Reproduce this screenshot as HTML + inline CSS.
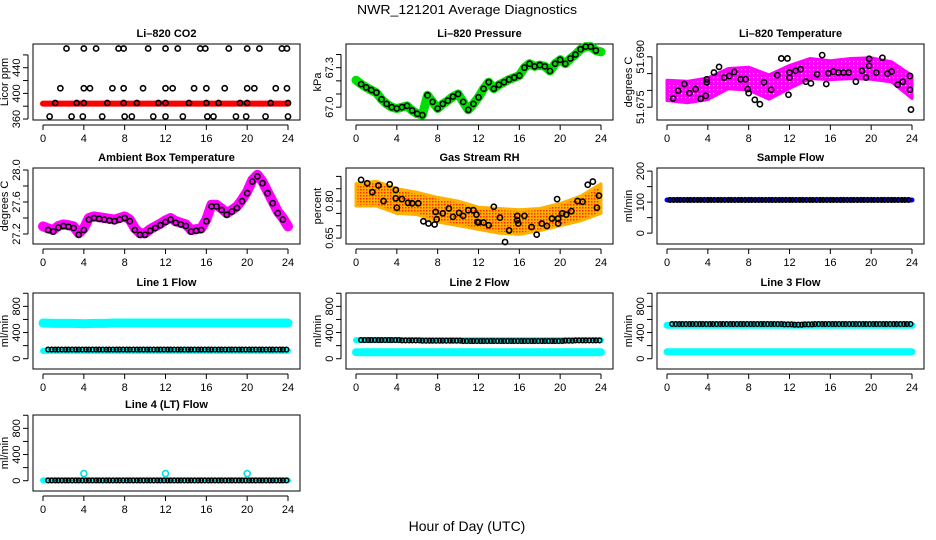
<!DOCTYPE html>
<html><head><meta charset="utf-8"><style>
html,body{margin:0;padding:0;background:#fff;}
svg{display:block;font-family:"Liberation Sans",sans-serif;}
.tl{font-size:11px;fill:#000;}
.tt{font-size:11px;font-weight:bold;fill:#000;}
</style></head><body>
<svg id="chart" width="936" height="540" viewBox="0 0 936 540">
<defs>
<pattern id="rhpat" width="3" height="3" patternUnits="userSpaceOnUse"><rect width="3" height="3" fill="#ffb000"/><rect width="1.5" height="1.5" fill="#ff2a00"/></pattern>
<pattern id="tpat" width="4" height="4" patternUnits="userSpaceOnUse"><rect width="4" height="4" fill="#ff00ff"/><rect x="1" y="1" width="1.2" height="1.2" fill="#ffb0ff"/></pattern>
</defs>
<text x="467" y="14" text-anchor="middle" font-size="13" textLength="220" lengthAdjust="spacingAndGlyphs">NWR_121201  Average Diagnostics</text>
<text x="467" y="531" text-anchor="middle" font-size="14">Hour of Day (UTC)</text>
</svg>
<script>
// ---- data ----
const xTicks = [0,4,8,12,16,20,24];
const halfHours = [0,0.5,1,1.5,2,2.5,3,3.5,4,4.5,5,5.5,6,6.5,7,7.5,8,8.5,9,9.5,10,10.5,11,11.5,12,12.5,13,13.5,14,14.5,15,15.5,16,16.5,17,17.5,18,18.5,19,19.5,20,20.5,21,21.5,22,22.5,23,23.5,24];
const twoHours = [0,2,4,6,8,10,12,14,16,18,20,22,24];
const hourly = [0,1,2,3,4,5,6,7,8,9,10,11,12,13,14,15,16,17,18,19,20,21,22,23,24];

const co2Band = [384,384,384,384,384,384,384,384,384,384,384,384,384];
const co2HighHours = [2.3,4.0,5.2,7.4,7.9,10.3,12.0,13.2,15.4,15.9,18.2,20.0,21.2,23.4,23.9];
const co2MidHours = [1.7,4.0,4.6,6.8,7.9,9.8,12.0,12.7,14.8,16.0,17.8,20.0,20.7,22.8,23.9];
const co2LowHours = [1.2,3.3,4.0,6.3,7.9,9.2,11.3,12.0,14.3,16.0,17.2,19.3,20.0,22.3,24.0];
const co2MinHours = [0.65,2.8,3.9,5.8,8.0,8.7,10.8,12.0,13.7,16.1,16.7,18.9,19.9,21.8,24.0];
const co2Levels = [470,408,385,364];

const pressure = [67.205,67.175,67.15,67.13,67.11,67.06,67.025,67.0,66.99,67.0,67.01,66.975,66.95,66.94,67.09,67.04,66.99,67.025,67.05,67.08,67.1,67.04,66.98,67.025,67.075,67.14,67.19,67.14,67.17,67.19,67.21,67.225,67.24,67.3,67.33,67.31,67.32,67.31,67.275,67.33,67.36,67.33,67.37,67.4,67.44,67.46,67.46,67.43,67.42];

const tempCenter = [51.680,51.6795,51.6805,51.6835,51.6835,51.681,51.684,51.6865,51.686,51.6865,51.6865,51.6855,51.681];
const tempSpread = [0.0030,0.0032,0.0032,0.0030,0.0034,0.0036,0.0034,0.0030,0.0028,0.0030,0.0032,0.0030,0.0034];
const tempBlackHours = [0.6,1.1,1.7,2.2,2.8,3.3,3.8,3.9,3.9,4.6,5.1,5.6,6.1,6.6,7.2,7.7,7.9,8.0,8.6,9.1,9.5,10.2,10.8,11.2,11.8,11.9,12.0,12.0,12.6,13.1,13.6,14.1,14.7,15.2,15.6,15.8,16.3,16.8,17.3,17.8,18.5,19.1,19.5,19.8,19.8,20.5,21.1,21.6,22.0,22.6,23.1,23.8,23.8,23.9];
const tempBlack = [51.6776,51.6799,51.6819,51.6792,51.6804,51.6775,51.6784,51.6824,51.6833,51.6853,51.6870,51.6838,51.6843,51.6855,51.6833,51.6833,51.6804,51.6792,51.6772,51.6759,51.6824,51.6802,51.6845,51.6895,51.6895,51.6787,51.6838,51.6853,51.6858,51.6863,51.6826,51.6821,51.6848,51.6905,51.6819,51.6851,51.6856,51.6853,51.6853,51.6853,51.6826,51.6858,51.6838,51.6873,51.6894,51.6853,51.6897,51.6850,51.6856,51.6817,51.6826,51.6802,51.6843,51.6743];

const ambient = [27.295,27.27,27.25,27.3,27.32,27.31,27.295,27.21,27.27,27.4,27.42,27.41,27.4,27.39,27.38,27.4,27.42,27.38,27.27,27.21,27.21,27.26,27.295,27.33,27.37,27.4,27.36,27.34,27.32,27.25,27.26,27.27,27.38,27.565,27.565,27.52,27.46,27.5,27.545,27.63,27.73,27.875,27.94,27.855,27.73,27.605,27.48,27.4,27.295];

const rhCenter = [0.825,0.83,0.80,0.79,0.765,0.75,0.73,0.72,0.715,0.725,0.745,0.77,0.81];
const rhSpread = [0.045,0.05,0.05,0.045,0.05,0.05,0.045,0.05,0.05,0.045,0.045,0.05,0.06];
const rhBlackHours = [0.5,1.1,1.6,2.2,2.7,3.3,3.9,3.9,4.0,4.5,5.1,5.5,6.1,6.6,7.1,7.7,7.8,7.9,8.5,9.1,9.5,10.1,10.5,11.0,11.5,11.8,11.9,12.0,12.5,13.0,13.5,14.1,14.6,15.0,15.8,15.8,15.9,16.5,17.2,17.7,18.2,18.7,19.2,19.7,19.8,19.8,20.2,20.6,21.1,21.7,22.2,22.7,23.2,23.6,23.8];
const rhBlack = [0.886,0.872,0.836,0.863,0.800,0.868,0.845,0.811,0.773,0.808,0.793,0.791,0.791,0.718,0.709,0.705,0.756,0.726,0.750,0.770,0.736,0.752,0.740,0.763,0.763,0.745,0.715,0.713,0.713,0.702,0.777,0.733,0.634,0.681,0.740,0.722,0.709,0.740,0.695,0.664,0.709,0.699,0.729,0.808,0.729,0.709,0.750,0.745,0.759,0.800,0.797,0.866,0.879,0.773,0.822];

const sampleBlue = [107,107,107,107,107,107,107,107,107,107,107,107,107,107,107,107,107,107,107,107,107,107,107,107,107];
const sampleBlack = [107,107,107,107,107,107,107,107,107,107,107,107,107,107,107,107,107,107,107,107,107,107,107,107,107];
const line1CyanHigh = [545,540,540,540,535,540,540,545,545,545,545,545,545,545,545,545,545,545,545,545,545,545,545,545,545];
const line1CyanLow = [120,120,120,120,120,120,120,120,120,120,120,120,120,120,120,120,120,120,120,120,120,120,120,120,120];
const line1Black = [140,140,140,140,140,140,140,140,140,140,140,140,140,140,140,140,140,140,140,140,140,140,140,140,140];
const line2Cyan = [100,100,100,100,100,100,100,100,100,100,100,100,100,100,100,100,100,100,100,100,100,100,100,100,100];
const line2CyanHigh = [285,285,285,285,285,285,285,285,285,285,285,285,285,285,285,285,285,285,285,285,285,285,285,285,285];
const line2Black = [285,285,285,285,280,280,275,275,275,275,270,270,270,270,270,270,270,270,270,270,275,280,280,280,280];
const line3CyanHigh = [510,510,510,510,510,510,510,510,510,510,510,510,510,510,510,510,510,510,510,510,510,510,510,510,510];
const line3Cyan = [105,105,105,105,105,105,105,105,105,105,105,105,105,105,105,105,105,105,105,105,105,105,105,105,105];
const line3Black = [530,530,530,530,530,530,530,530,530,530,530,525,520,525,530,530,530,530,530,530,530,530,530,530,530];
const line4Black = [5,5,5,5,5,5,5,5,5,5,5,5,5,5,5,5,5,5,5,5,5,5,5,5,5];
const line4Cyan = [5,5,5,5,5,5,5,5,5,5,5,5,5,5,5,5,5,5,5,5,5,5,5,5,5];
const line4SpikeHours = [4,12,20];
const line4Spikes = [110,110,110];

// ---- drawing ----
const NS = 'http://www.w3.org/2000/svg';
const svg = document.getElementById('chart');
const colLeft = [33,346,657];
const rowTop = [44,168,293,415];
const W = 267, H = 76;
function mk(tag, attrs, parent){
  const e = document.createElementNS(NS, tag);
  for (const k in attrs) e.setAttribute(k, attrs[k]);
  (parent||svg).appendChild(e);
  return e;
}
function panel(c, r, ymin, ymax, yticks, ylabels, ylab, title, name){
  const L = colLeft[c], T = rowTop[r];
  const g = mk('g', {});
  
  
  const xs = h => L + 10 + h * 245 / 24;
  const ys = v => T + H - (v - ymin) / (ymax - ymin) * H;
  const box = mk('rect', {x:L, y:T, width:W, height:H, fill:'none', stroke:'#000', 'stroke-width':1}, g);
  
  
  const t = mk('text', {x:L + W/2, y:T - 7, 'text-anchor':'middle', class:'tt'}, g);
  t.textContent = title;
  
  
  const xa = mk('g', {}, g);
  
  
  mk('line', {x1:xs(0), x2:xs(24), y1:T+H+5, y2:T+H+5, stroke:'#000'}, xa);
  xTicks.forEach(v => {
    mk('line', {x1:xs(v), x2:xs(v), y1:T+H+5, y2:T+H+10, stroke:'#000'}, xa);
    const tx = mk('text', {x:xs(v), y:T+H+22, 'text-anchor':'middle', class:'tl'}, xa);
    tx.textContent = v;
  });
  const ya = mk('g', {}, g);
  
  
  mk('line', {x1:L-5, x2:L-5, y1:ys(yticks[0]), y2:ys(yticks[yticks.length-1]), stroke:'#000'}, ya);
  yticks.forEach(v => mk('line', {x1:L-10, x2:L-5, y1:ys(v), y2:ys(v), stroke:'#000'}, ya));
  ylabels.forEach(v => {
    const y = ys(parseFloat(v));
    const tx = mk('text', {x:L-13, y:y, 'text-anchor':'middle', class:'tl', transform:`rotate(-90 ${L-13} ${y})`}, ya);
    tx.textContent = v;
  });
  const yl = mk('text', {x:L-25, y:T+H/2, 'text-anchor':'middle', class:'tl', transform:`rotate(-90 ${L-25} ${T+H/2})`}, g);
  yl.textContent = ylab;
  
  
  return {g, xs, ys};
}
function thickLine(p, hours, vals, color, w, nm){
  const d = hours.map((h,i) => (i?'L':'M') + p.xs(h).toFixed(1) + ' ' + p.ys(vals[i]).toFixed(1)).join(' ');
  const e = mk('path', {d, fill:'none', stroke:color, 'stroke-width':w, 'stroke-linecap':'round', 'stroke-linejoin':'round'}, p.g);
  
  
}
function band(p, hours, center, spread, fill, nm){
  const up = hours.map((h,i) => p.xs(h).toFixed(1) + ',' + p.ys(center[i] + spread[i]).toFixed(1));
  const lo = hours.map((h,i) => p.xs(h).toFixed(1) + ',' + p.ys(center[i] - spread[i]).toFixed(1)).reverse();
  const e = mk('polygon', {points: up.concat(lo).join(' '), fill, stroke:fill==='url(#rhpat)'?'#ffb000':'#ff00ff', 'stroke-width':3, 'stroke-linejoin':'round'}, p.g);
  
  
}
function circles(p, hours, vals, color, nm, r){
  const g = mk('g', {}, p.g);
  
  
  hours.forEach((h,i) => {
    const c = mk('circle', {cx:p.xs(h), cy:p.ys(vals[i]), r:r||2.6, fill:'none', stroke:color, 'stroke-width':1.6}, g);
    
    
  });
}
function hourlyCircles(p, vals, color, nm, start){
  const g = mk('g', {}, p.g);
  
  
  vals.forEach((v,i) => {
    if (i === 24) return;
    [0, 0.35, 0.7].forEach(o => {
      const h = i + o + (start||0.5);
      if (h > 23.9) return;
      const c = mk('circle', {cx:p.xs(h), cy:p.ys(v), r:2.3, fill:'none', stroke:color, 'stroke-width':1.5}, g);
      
      
    });
  });
}

// Li-820 CO2
let p = panel(0,0,358.5,477,[360,380,400,420,440,460],['360','400','440'],'Licor ppm','Li\u2013820 CO2','co2');
thickLine(p, twoHours, co2Band, '#ff0000', 6, 'co2-red-band');
circles(p, co2HighHours, co2HighHours.map(()=>co2Levels[0]), '#000', 'co2-high-points');
circles(p, co2MidHours, co2MidHours.map(()=>co2Levels[1]), '#000', 'co2-mid-points');
circles(p, co2LowHours, co2LowHours.map(()=>co2Levels[2]), '#000', 'co2-low-points');
circles(p, co2MinHours, co2MinHours.map(()=>co2Levels[3]), '#000', 'co2-min-points');

// Pressure
p = panel(1,0,66.9025,67.48,[67.0,67.1,67.2,67.3,67.4],['67.0','67.3'],'kPa','Li\u2013820 Pressure','pressure');
thickLine(p, halfHours, pressure, '#00e000', 9, 'pressure-green-line');
circles(p, halfHours.slice(1,48), pressure.slice(1,48), '#000', 'pressure-black-points');

// Temperature
p = panel(2,0,51.6712,51.6938,[51.675,51.680,51.685,51.690],['51.675','51.690'],'degrees C','Li\u2013820 Temperature','li820-temp');
band(p, twoHours, tempCenter, tempSpread, 'url(#tpat)', 'temp-magenta-cloud');
circles(p, tempBlackHours, tempBlack, '#000', 'temp-black-points');

// Ambient box temperature
p = panel(0,1,27.075,28.025,[27.2,27.4,27.6,27.8,28.0],['27.2','27.6','28.0'],'degrees C','Ambient Box Temperature','ambient');
thickLine(p, halfHours, ambient, '#ff00ff', 10, 'ambient-magenta-line');
circles(p, halfHours.slice(1,48), ambient.slice(1,48).map(v=>v-0.02), '#000', 'ambient-black-points');

// Gas stream RH
p = panel(1,1,0.626,0.934,[0.65,0.70,0.75,0.80,0.85,0.90],['0.65','0.80'],'percent','Gas Stream RH','rh');
band(p, twoHours, rhCenter, rhSpread, 'url(#rhpat)', 'rh-orange-cloud');
circles(p, rhBlackHours, rhBlack, '#000', 'rh-black-points');

// Sample flow
p = panel(2,1,-35,210,[0,50,100,150,200],['0','100','200'],'ml/min','Sample Flow','sample-flow');
thickLine(p, hourly, sampleBlue, '#0000ff', 5, 'sample-blue-line');
hourlyCircles(p, sampleBlack, '#000', 'sample-black-points', 0.3);

const flowTicks = [0,200,400,600,800,1000], flowLabels = ['0','400','800'];
// Line 1
p = panel(0,2,-157,1004,flowTicks,flowLabels,'ml/min','Line 1 Flow','line1');
thickLine(p, hourly, line1CyanHigh, '#00ffff', 9, 'line1-cyan-high');
thickLine(p, hourly, line1CyanLow, '#00ffff', 6, 'line1-cyan-low');
hourlyCircles(p, line1Black, '#000', 'line1-black-points');
// Line 2
p = panel(1,2,-157,1004,flowTicks,flowLabels,'ml/min','Line 2 Flow','line2');
thickLine(p, hourly, line2Cyan, '#00ffff', 8, 'line2-cyan-low');
thickLine(p, hourly, line2CyanHigh, '#00ffff', 6, 'line2-cyan-high');
hourlyCircles(p, line2Black, '#000', 'line2-black-points');
// Line 3
p = panel(2,2,-157,1004,flowTicks,flowLabels,'ml/min','Line 3 Flow','line3');
thickLine(p, hourly, line3CyanHigh, '#00ffff', 7, 'line3-cyan-high');
thickLine(p, hourly, line3Cyan, '#00ffff', 7, 'line3-cyan-low');
hourlyCircles(p, line3Black, '#000', 'line3-black-points');
// Line 4
p = panel(0,3,-157,1004,flowTicks,flowLabels,'ml/min','Line 4 (LT) Flow','line4');
thickLine(p, hourly, line4Cyan, '#00ffff', 6, 'line4-cyan-line');
hourlyCircles(p, line4Black, '#000', 'line4-black-points');
circles(p, line4SpikeHours, line4Spikes, '#00e0e0', 'line4-cyan-spikes', 3);
</script>
</body></html>
